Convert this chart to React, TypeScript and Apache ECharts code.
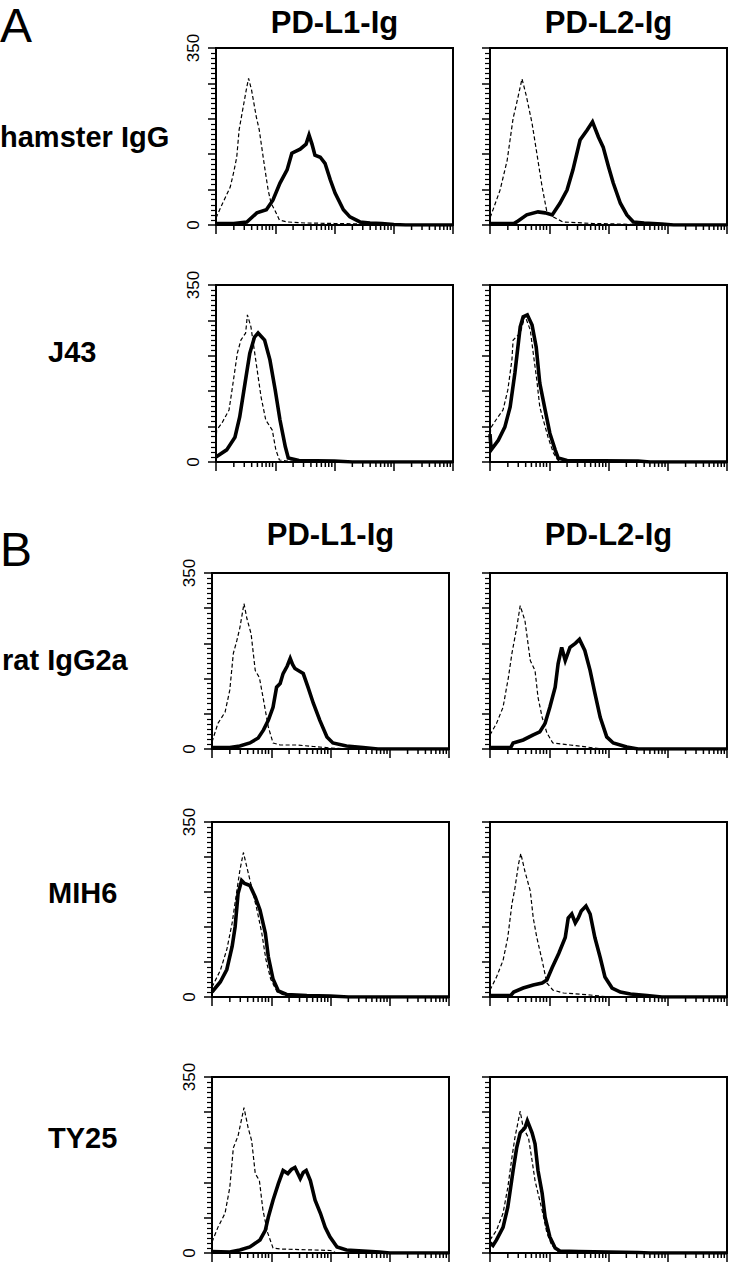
import React, { useEffect, useRef } from "react";
import * as echarts from "echarts";

// ---------- Data (x = fluorescence in decades, log10; y = cell count) ----------
const sectionLabels = ["A", "B"];
const columnLabels = ["PD-L1-Ig", "PD-L2-Ig"];
const rowLabels = ["hamster IgG", "J43", "rat IgG2a", "MIH6", "TY25"];
const yLabelValues = [0, 350];
const yMax = 350;
const yMajorStep = 70;
const decadeMax = 4;
const minorMultipliers = [2, 3, 4, 5, 6, 7, 8, 9];

// Row A1: hamster IgG
const hamsterL1Control = [[0,14],[0.1,40],[0.24,75],[0.3,105],[0.35,134],[0.39,188],[0.44,221],[0.52,273],[0.55,290],[0.6,267],[0.68,214],[0.73,188],[0.82,115],[0.88,69],[0.93,43],[0.99,30],[1.07,10],[1.2,6],[1.5,4],[2.0,3],[2.5,2],[3.0,1],[3.3,0],[4,0]];
const hamsterL1Stain = [[0,3],[0.3,3],[0.52,6],[0.69,24],[0.85,30],[0.96,49],[1.08,83],[1.2,109],[1.28,142],[1.42,150],[1.52,160],[1.57,178],[1.62,160],[1.67,138],[1.76,134],[1.84,122],[1.93,89],[2.01,63],[2.15,30],[2.26,16],[2.43,6],[2.6,4],[2.8,3],[3.0,1],[3.2,0],[4,0]];
const hamsterL2Control = [[0,15],[0.02,20],[0.17,69],[0.29,128],[0.39,211],[0.45,241],[0.54,289],[0.61,257],[0.71,201],[0.79,142],[0.88,75],[0.96,26],[1.07,16],[1.23,6],[1.74,3],[2.5,1],[2.8,0],[4,0]];
const hamsterL2Stain = [[0,3],[0.4,3],[0.45,6],[0.62,20],[0.81,26],[0.93,24],[1.05,20],[1.18,43],[1.3,69],[1.4,109],[1.52,168],[1.64,188],[1.73,204],[1.83,174],[1.91,154],[2.0,115],[2.08,83],[2.2,43],[2.31,20],[2.42,6],[2.6,4],[2.9,2],[3.1,0],[4,0]];
// Row A2: J43
const j43L1Control = [[0,30],[0.01,63],[0.1,77],[0.22,103],[0.27,142],[0.36,215],[0.42,241],[0.5,255],[0.53,291],[0.59,267],[0.67,202],[0.76,129],[0.84,83],[0.95,63],[1.01,24],[1.07,4],[1.2,2],[1.5,0],[4,0]];
const j43L1Stain = [[0,10],[0.18,24],[0.32,49],[0.4,89],[0.49,156],[0.57,215],[0.65,247],[0.71,255],[0.82,241],[0.91,202],[1.0,142],[1.08,83],[1.17,30],[1.22,8],[1.4,3],[2.0,2],[2.3,0],[4,0]];
const j43L2Control = [[0,30],[0.01,67],[0.1,83],[0.22,103],[0.3,142],[0.37,202],[0.39,241],[0.51,255],[0.59,289],[0.68,261],[0.73,215],[0.79,162],[0.84,109],[0.9,83],[0.98,49],[1.07,18],[1.15,3],[1.5,1],[1.7,0],[4,0]];
const j43L2Stain = [[0,55],[0.02,24],[0.14,43],[0.25,69],[0.34,109],[0.42,176],[0.51,267],[0.56,287],[0.63,291],[0.71,271],[0.78,227],[0.84,156],[0.93,103],[1.01,57],[1.1,24],[1.15,8],[1.3,3],[2.5,2],[2.7,0],[4,0]];
// Row B1: rat IgG2a
const ratL1Control = [[0,14],[0.1,51],[0.22,73],[0.3,117],[0.36,190],[0.42,216],[0.47,241],[0.54,289],[0.59,259],[0.66,229],[0.73,156],[0.8,142],[0.87,97],[0.95,44],[1.03,12],[1.15,8],[1.43,8],[1.71,5],[2.0,2],[2.3,0],[4,0]];
const ratL1Stain = [[0,3],[0.3,3],[0.47,6],[0.64,12],[0.78,22],[0.87,38],[0.95,57],[1.03,83],[1.09,123],[1.15,130],[1.2,150],[1.27,165],[1.32,180],[1.36,168],[1.4,160],[1.47,155],[1.54,150],[1.62,123],[1.71,91],[1.82,57],[1.94,24],[2.04,12],[2.27,6],[2.55,3],[2.8,0],[4,0]];
const ratL2Control = [[0,28],[0.11,51],[0.22,83],[0.31,142],[0.37,190],[0.45,241],[0.51,285],[0.59,255],[0.68,176],[0.76,156],[0.81,103],[0.88,63],[0.96,32],[1.06,12],[1.35,8],[1.63,4],[1.9,0],[4,0]];
const ratL2Stain = [[0,3],[0.35,3],[0.39,12],[0.56,18],[0.73,28],[0.84,34],[0.93,51],[1.01,83],[1.1,123],[1.15,170],[1.21,202],[1.27,176],[1.35,202],[1.44,210],[1.51,218],[1.6,196],[1.69,156],[1.77,111],[1.86,63],[1.97,24],[2.08,12],[2.31,4],[2.5,0],[4,0]];
// Row B2: MIH6
const mih6L1Control = [[0,20],[0.14,53],[0.25,95],[0.34,148],[0.42,213],[0.47,253],[0.53,289],[0.59,259],[0.67,219],[0.76,174],[0.84,128],[0.91,75],[0.99,36],[1.1,10],[1.25,2],[1.5,0],[4,0]];
const mih6L1Stain = [[0,10],[0.14,30],[0.25,55],[0.34,101],[0.39,140],[0.44,207],[0.5,233],[0.55,227],[0.64,223],[0.73,200],[0.81,174],[0.9,128],[0.95,81],[1.03,36],[1.12,12],[1.26,5],[1.6,3],[2.0,2],[2.3,0],[4,0]];
const mih6L2Control = [[0,14],[0.11,40],[0.22,73],[0.3,119],[0.37,186],[0.42,217],[0.48,265],[0.52,287],[0.59,251],[0.68,212],[0.73,158],[0.79,119],[0.88,73],[0.96,28],[1.06,14],[1.24,8],[1.69,4],[2.0,0],[4,0]];
const mih6L2Stain = [[0,3],[0.35,3],[0.4,10],[0.56,18],[0.73,24],[0.88,28],[0.96,34],[1.05,59],[1.16,87],[1.27,119],[1.32,158],[1.38,166],[1.44,148],[1.49,158],[1.54,172],[1.62,182],[1.69,166],[1.77,119],[1.86,79],[1.94,40],[2.06,18],[2.2,10],[2.37,6],[2.65,3],[2.9,0],[4,0]];
// Row B3: TY25
const ty25L1Control = [[0,22],[0.1,51],[0.22,79],[0.3,130],[0.36,209],[0.44,233],[0.54,289],[0.61,249],[0.67,223],[0.73,158],[0.8,144],[0.86,85],[0.94,40],[1.03,10],[1.15,8],[1.71,6],[2.0,5],[2.1,0],[4,0]];
const ty25L1Stain = [[0,3],[0.3,2],[0.47,6],[0.64,12],[0.81,26],[0.9,45],[0.95,71],[1.03,105],[1.12,138],[1.2,164],[1.28,158],[1.34,166],[1.4,170],[1.49,148],[1.54,160],[1.59,164],[1.66,144],[1.74,105],[1.83,79],[1.91,51],[1.99,32],[2.11,12],[2.27,6],[2.55,4],[2.83,2],[3.0,0],[4,0]];
const ty25L2Control = [[0,26],[0.11,45],[0.22,79],[0.3,130],[0.37,190],[0.42,229],[0.51,282],[0.56,249],[0.65,229],[0.71,184],[0.76,144],[0.81,119],[0.88,85],[0.96,40],[1.04,16],[1.15,3],[1.3,0],[4,0]];
const ty25L2Stain = [[0,20],[0.05,15],[0.11,26],[0.22,51],[0.3,91],[0.39,164],[0.45,209],[0.51,239],[0.59,249],[0.63,263],[0.71,239],[0.76,217],[0.81,164],[0.88,119],[0.93,71],[1.01,32],[1.1,10],[1.18,4],[1.5,3],[2.0,2],[2.5,1],[2.7,0],[4,0]];

const panelData = [
  [hamsterL1Control, hamsterL1Stain, hamsterL2Control, hamsterL2Stain],
  [j43L1Control, j43L1Stain, j43L2Control, j43L2Stain],
  [ratL1Control, ratL1Stain, ratL2Control, ratL2Stain],
  [mih6L1Control, mih6L1Stain, mih6L2Control, mih6L2Stain],
  [ty25L1Control, ty25L1Stain, ty25L2Control, ty25L2Stain],
];

// ---------- Layout ----------
const W = 729;
const H = 1280;
const rowTops = [48, 285, 573, 822, 1077];
const rowHeights = [177, 177, 176, 175, 176];
const colLeftsA = [216, 490];
const colLeftsB = [212, 490];
const panelWidth = 237;
const rowLabelPos = [
  { x: 0, y: 137 },
  { x: 48, y: 352 },
  { x: 2, y: 660 },
  { x: 48, y: 893 },
  { x: 48, y: 1138 },
];
const sectionPos = [{ x: 0, y: 25 }, { x: 0, y: 549 }];
const headerY = [22, 534];
const FONT = "'Liberation Sans', Arial, Helvetica, sans-serif";

export default function App() {
  const ref = useRef<HTMLDivElement>(null);

  useEffect(() => {
    if (!ref.current) return;
    const chart = echarts.init(ref.current, undefined, { renderer: "svg" });

    const minorTicks: number[][] = [];
    for (let d = 0; d < decadeMax; d++) {
      for (const k of minorMultipliers) minorTicks.push([d + Math.log10(k), 0]);
    }

    const grid: any[] = [];
    const xAxis: any[] = [];
    const yAxis: any[] = [];
    const series: any[] = [];
    let idx = 0;
    for (let r = 0; r < 5; r++) {
      for (let c = 0; c < 2; c++) {
        const lefts = r < 2 ? colLeftsA : colLeftsB;
        grid.push({
          left: lefts[c],
          top: rowTops[r],
          width: panelWidth,
          height: rowHeights[r],
          show: true,
          borderColor: "#000",
          borderWidth: 2,
          backgroundColor: "transparent",
          containLabel: false,
          outerBoundsMode: "none",
        });
        xAxis.push({
          type: "value",
          gridIndex: idx,
          min: 0,
          max: decadeMax,
          interval: 1,
          axisLine: { show: true, onZero: false, lineStyle: { color: "#000", width: 2 } },
          axisTick: { show: true, length: 9, lineStyle: { color: "#000", width: 1.5 } },
          axisLabel: { show: false },
          splitLine: { show: false },
        });
        yAxis.push({
          type: "value",
          gridIndex: idx,
          min: 0,
          max: yMax,
          interval: yMajorStep,
          axisLine: { show: true, onZero: false, lineStyle: { color: "#000", width: 2 } },
          axisTick: { show: true, length: 8, lineStyle: { color: "#000", width: 1.5 } },
          minorTick: { show: true, splitNumber: 7, length: 5, lineStyle: { color: "#000", width: 1.2 } },
          axisLabel: {
            show: c === 0,
            rotate: 90,
            margin: 14,
            fontSize: 17,
            color: "#000",
            fontFamily: FONT,
            formatter: (v: number) => (yLabelValues.includes(v) ? String(v) : ""),
          },
          splitLine: { show: false },
        });
        const [ctrl, stain] = [panelData[r][c * 2], panelData[r][c * 2 + 1]];
        series.push({
          type: "line",
          xAxisIndex: idx,
          yAxisIndex: idx,
          data: ctrl,
          symbol: "none",
          silent: true,
          lineStyle: { color: "#000", width: 1.2, type: [4, 2.5] },
          z: 3,
        });
        series.push({
          type: "line",
          xAxisIndex: idx,
          yAxisIndex: idx,
          data: stain,
          symbol: "none",
          silent: true,
          lineStyle: { color: "#000", width: 3.6, join: "miter" },
          z: 2,
        });
        series.push({
          type: "custom",
          xAxisIndex: idx,
          yAxisIndex: idx,
          data: minorTicks,
          silent: true,
          clip: false,
          renderItem: (params: any, api: any) => {
            const p = api.coord([api.value(0), 0]);
            return {
              type: "line",
              shape: { x1: p[0], y1: p[1], x2: p[0], y2: p[1] + 5 },
              style: { stroke: "#000", lineWidth: 1.5 },
            };
          },
        });
        idx++;
      }
    }

    const graphic: any[] = [];
    sectionLabels.forEach((s, i) => {
      graphic.push({
        type: "text",
        x: sectionPos[i].x,
        y: sectionPos[i].y,
        style: { text: s, font: `normal 48px ${FONT}`, fill: "#000", textAlign: "left", textVerticalAlign: "middle" },
      });
    });
    [0, 1].forEach((sec) => {
      const lefts = sec === 0 ? colLeftsA : colLeftsB;
      columnLabels.forEach((t, c) => {
        graphic.push({
          type: "text",
          x: lefts[c] + panelWidth / 2,
          y: headerY[sec],
          style: { text: t, font: `bold 31px ${FONT}`, fill: "#000", textAlign: "center", textVerticalAlign: "middle" },
        });
      });
    });
    rowLabels.forEach((t, r) => {
      graphic.push({
        type: "text",
        x: rowLabelPos[r].x,
        y: rowLabelPos[r].y,
        style: { text: t, font: `bold 29px ${FONT}`, fill: "#000", textAlign: "left", textVerticalAlign: "middle" },
      });
    });

    chart.setOption({
      animation: false,
      backgroundColor: "#fff",
      grid,
      xAxis,
      yAxis,
      series,
      graphic,
    });
    return () => chart.dispose();
  }, []);

  return (
    <div
      ref={ref}
      style={{ position: "absolute", left: 0, top: 0, width: W, height: H, background: "#fff" }}
    />
  );
}
